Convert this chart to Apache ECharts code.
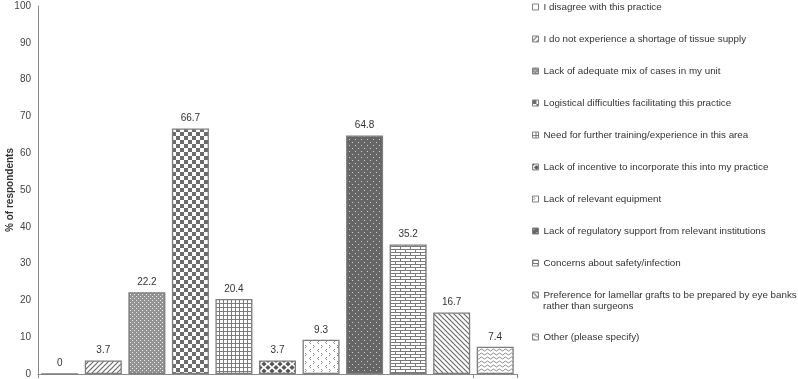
<!DOCTYPE html>
<html>
<head>
<meta charset="utf-8">
<script src="https://cdn.jsdelivr.net/npm/echarts@6/dist/echarts.min.js"></script>
<style>
  html, body { margin: 0; padding: 0; background: #fff; }
  #chart { width: 798px; height: 379px; }
</style>
</head>
<body>
<div id="chart"></div>
<script>
var reasons = [
  "I disagree with this practice",
  "I do not experience a shortage of tissue supply",
  "Lack of adequate mix of cases in my unit",
  "Logistical difficulties facilitating this practice",
  "Need for further training/experience in this area",
  "Lack of incentive to incorporate this into my practice",
  "Lack of relevant equipment",
  "Lack of regulatory support from relevant institutions",
  "Concerns about safety/infection",
  "Preference for lamellar grafts to be prepared by eye banks\nrather than surgeons",
  "Other (please specify)"
];
var percents = [0, 3.7, 22.2, 66.7, 20.4, 3.7, 9.3, 64.8, 35.2, 16.7, 7.4];
var yTicks = { min: 0, max: 100, step: 10 };
var patternKinds = ["blank", "fwd", "mesh", "checker", "grid", "diamond", "chevron", "darkdots", "brick", "back", "wave"];

// pattern tiles drawn on small canvases
function tile(w, h, draw) {
  var c = document.createElement("canvas");
  c.width = w; c.height = h;
  var x = c.getContext("2d");
  x.fillStyle = "#fff"; x.fillRect(0, 0, w, h);
  draw(x, w, h);
  return { image: c, repeat: "repeat" };
}
var patterns = {
  blank: function() { return tile(4, 4, function() {}) },
  fwd: function() { return tile(5, 5, function(x) {
    x.strokeStyle = "#6a6a6a"; x.lineWidth = 1.2; x.beginPath();
    x.moveTo(-1, 6); x.lineTo(6, -1); x.moveTo(-1, 1); x.lineTo(1, -1); x.moveTo(4, 6); x.lineTo(6, 4); x.stroke();
  }) },
  mesh: function() { return tile(4, 4, function(x) {
    x.fillStyle = "#929292"; x.fillRect(0, 0, 4, 4);
    x.fillStyle = "#f0f0f0"; x.fillRect(0, 0, 1, 1); x.fillRect(2, 2, 1, 1);
  }) },
  checker: function() { return tile(8, 8, function(x) {
    x.fillStyle = "#6b6b6b"; x.fillRect(0, 0, 4, 4); x.fillRect(4, 4, 4, 4);
  }) },
  grid: function() { return tile(4, 4, function(x) {
    x.fillStyle = "#7c7c7c"; x.fillRect(0, 3, 4, 1); x.fillRect(3, 0, 1, 4);
  }) },
  diamond: function() { return tile(8, 7, function(x) {
    x.fillStyle = "#555";
    [[0, 0], [8, 0], [0, 7], [8, 7], [4, 3.5]].forEach(function(p) {
      x.beginPath(); x.moveTo(p[0], p[1] - 2.6); x.lineTo(p[0] + 2.6, p[1]); x.lineTo(p[0], p[1] + 2.6); x.lineTo(p[0] - 2.6, p[1]); x.closePath(); x.fill();
    });
  }) },
  chevron: function() { return tile(8, 8, function(x) {
    x.strokeStyle = "#8a8a8a"; x.lineWidth = 1; x.beginPath();
    x.moveTo(1, 1); x.lineTo(2.5, 2.5); x.lineTo(1, 4);
    x.moveTo(7, 5); x.lineTo(5.5, 6.5); x.lineTo(7, 8); x.stroke();
  }) },
  darkdots: function() { return tile(6, 6, function(x) {
    x.fillStyle = "#666"; x.fillRect(0, 0, 6, 6);
    x.fillStyle = "#cfcfcf"; x.fillRect(1, 1, 1, 1); x.fillRect(4, 4, 1, 1);
  }) },
  brick: function() { return tile(10, 6, function(x) {
    x.fillStyle = "#7a7a7a";
    x.fillRect(0, 0, 10, 1); x.fillRect(0, 3, 10, 1);
    x.fillRect(0, 0, 1, 3); x.fillRect(5, 3, 1, 3);
  }) },
  back: function() { return tile(5, 5, function(x) {
    x.strokeStyle = "#6a6a6a"; x.lineWidth = 1.2; x.beginPath();
    x.moveTo(-1, -1); x.lineTo(6, 6); x.moveTo(4, -1); x.lineTo(6, 1); x.moveTo(-1, 4); x.lineTo(1, 6); x.stroke();
  }) },
  wave: function() { return tile(6, 4, function(x) {
    x.strokeStyle = "#808080"; x.lineWidth = 0.9; x.beginPath();
    x.moveTo(0, 2); x.quadraticCurveTo(1.5, 0, 3, 2); x.quadraticCurveTo(4.5, 4, 6, 2); x.stroke();
  }) }
};

var chart = echarts.init(document.getElementById("chart"));
var font = "'Liberation Sans', Arial, sans-serif";

var series = reasons.map(function(name, i) {
  return {
    name: name, type: "bar", stack: "all", barCategoryGap: "15%",
    data: percents.map(function(v, j) { return j === i ? v : "-" }),
    itemStyle: { color: patterns[patternKinds[i]](), borderColor: "#7d7d7d", borderWidth: 1.3 },
    label: { show: true, position: "top", distance: 5, color: "#333", fontSize: 10, fontFamily: font },
    emphasis: { disabled: true }
  };
});

// one legend per entry so the two-line entry keeps its key beside the first line
var legends = reasons.map(function(name, i) {
  return {
    data: [name], orient: "vertical", left: 532, top: 1 + i * 32 + (i === 10 ? 10 : 0), padding: 0,
    itemWidth: 6, itemHeight: 6, icon: "rect", selectedMode: false,
    itemStyle: { borderColor: "#808080", borderWidth: 1 },
    formatter: function(n) { return n.split("\n")[0] },
    textStyle: { color: "#333", fontSize: 9.8, fontFamily: font, lineHeight: 12 }
  };
});

chart.setOption({
  animation: false,
  grid: { left: 38, right: 281, top: 6, bottom: 5, outerBoundsMode: "none", containLabel: false },
  legend: legends,
  graphic: [{ type: "text", left: 543, top: 301, style: { text: reasons[9].split("\n")[1], fill: "#333", font: "9.8px " + font } }],
  xAxis: {
    type: "category", data: reasons,
    axisLine: { lineStyle: { color: "#8a8a8a" } },
    axisTick: { show: true, length: 4, lineStyle: { color: "#8a8a8a" } },
    axisLabel: { show: false }
  },
  yAxis: {
    type: "value", min: yTicks.min, max: yTicks.max, interval: yTicks.step,
    name: "% of respondents", nameLocation: "middle", nameGap: 23, nameMoveOverlap: false,
    nameTextStyle: { fontWeight: "bold", fontSize: 10, color: "#333", fontFamily: font },
    axisLine: { show: true, lineStyle: { color: "#8a8a8a" } },
    axisTick: { show: false },
    splitLine: { show: false },
    axisLabel: { color: "#444", fontSize: 10, margin: 7, fontFamily: font }
  },
  series: series
});
</script>
</body>
</html>
